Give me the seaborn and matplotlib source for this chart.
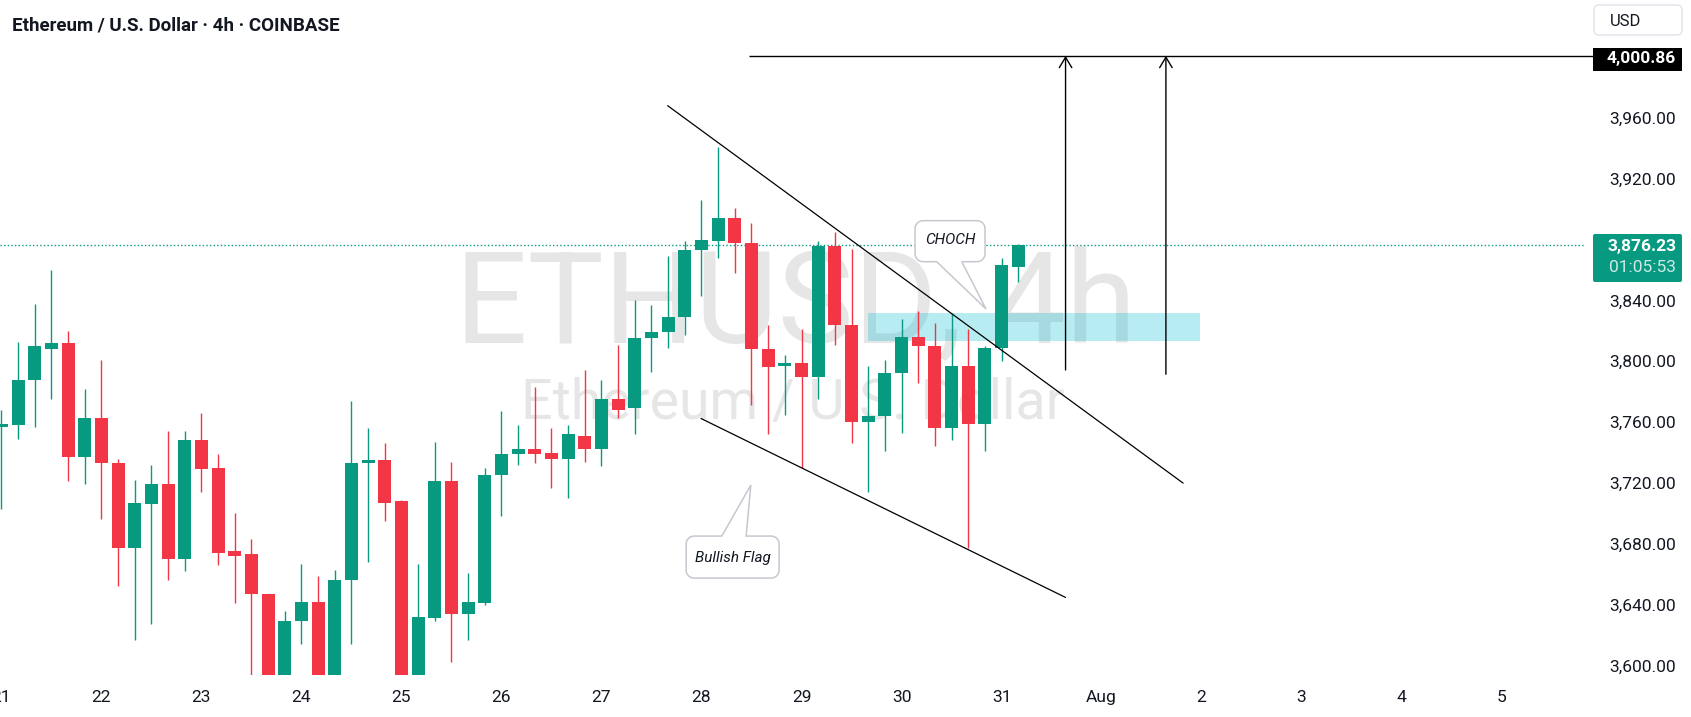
import numpy as np
import seaborn as sns
import matplotlib
matplotlib.use("Agg")
import matplotlib.pyplot as plt
import matplotlib.transforms as mtransforms
from matplotlib.patches import Rectangle, Polygon, FancyBboxPatch
from matplotlib.ticker import FuncFormatter

# 4h candles, index 0 = Jul 22 00:00 (6 candles per day)
candle = np.arange(-6, 56)
open_ = [3757, 3758, 3788, 3808, 3812, 3737, 3763, 3733, 3677, 3706,
         3719, 3670, 3748, 3730, 3675, 3673, 3647, 3588, 3629, 3642,
         3590, 3656, 3733, 3735, 3708, 3592, 3631, 3721, 3634, 3641,
         3725, 3739, 3742, 3740, 3736, 3751, 3742, 3775, 3769, 3815,
         3819, 3829, 3873, 3879, 3894, 3878, 3808, 3797, 3799, 3790,
         3876, 3824, 3760, 3764, 3792, 3816, 3810, 3756, 3797, 3759,
         3809, 3862]
high = [3768, 3813, 3838, 3860, 3820, 3782, 3801, 3736, 3722, 3732,
        3754, 3754, 3766, 3739, 3700, 3683, 3647, 3636, 3667, 3659,
        3663, 3774, 3756, 3746, 3709, 3667, 3747, 3734, 3661, 3730,
        3767, 3758, 3783, 3756, 3758, 3794, 3788, 3811, 3840, 3837,
        3869, 3879, 3906, 3941, 3901, 3891, 3824, 3804, 3821, 3879,
        3885, 3874, 3797, 3801, 3828, 3833, 3825, 3832, 3821, 3810,
        3868, 3877]
low = [3703, 3749, 3757, 3775, 3721, 3719, 3696, 3652, 3617, 3627,
       3656, 3662, 3714, 3666, 3641, 3585, 3572, 3580, 3614, 3582,
       3586, 3614, 3668, 3695, 3578, 3585, 3629, 3602, 3617, 3640,
       3698, 3732, 3733, 3717, 3710, 3734, 3731, 3763, 3752, 3793,
       3809, 3817, 3843, 3868, 3858, 3771, 3752, 3765, 3730, 3775,
       3811, 3746, 3714, 3741, 3753, 3786, 3744, 3748, 3677, 3741,
       3800, 3852]
close = [3759, 3788, 3810, 3812, 3737, 3763, 3733, 3677, 3707, 3719,
         3670, 3748, 3729, 3674, 3672, 3647, 3588, 3629, 3642, 3590,
         3656, 3733, 3735, 3707, 3592, 3632, 3721, 3634, 3642, 3725,
         3739, 3742, 3739, 3736, 3752, 3742, 3775, 3768, 3815, 3819,
         3829, 3873, 3880, 3894, 3878, 3808, 3796, 3799, 3790, 3876,
         3824, 3760, 3764, 3792, 3816, 3810, 3756, 3797, 3759, 3809,
         3863, 3876.23]

day_ticks = np.arange(-6, 85, 6)
day_labels = ["21", "22", "23", "24", "25", "26", "27", "28", "29", "30",
              "31", "Aug", "2", "3", "4", "5"]
price_ticks = np.arange(3600, 4001, 40)

last_price = 3876.23
target_price = 4000.86
target_start = 38.88
arrow_x = [57.84, 63.86]
arrow_base = [3794.3, 3791.5]
upper_line_x, upper_line_y = [33.97, 64.89], [3968.1, 3719.9]
lower_line_x, lower_line_y = [35.97, 57.84], [3762.4, 3644.7]
zone_x, zone_y = [45.97, 65.93], [3813.5, 3831.9]

GREEN = "#089981"
RED = "#f23645"
TXT = "#131722"

sns.set_style("white")
plt.rcParams["font.family"] = ["Roboto", "DejaVu Sans"]

W, H = 1691, 717
fig = plt.figure(figsize=(W / 100, H / 100), dpi=100)
fig.patch.set_facecolor("white")
ax = fig.add_axes([0, 1 - 675 / H, 1585 / W, 675 / H])
ax.set_xlim(-6.08, 89.0)
ax.set_ylim(3593.7, 4037.6)
sns.despine(ax=ax, left=True, bottom=True, right=True, top=True)

# watermark
ax.text(796 / W, 1 - 343 / H, "ETHUSD, 4h", transform=fig.transFigure, fontsize=92,
        color="#e6e6e6", ha="center", va="baseline", zorder=0)
ax.text(793 / W, 1 - 419 / H, "Ethereum / U.S. Dollar", transform=fig.transFigure,
        fontsize=40, color="#e6e6e6", ha="center", va="baseline", zorder=0)

# candles
o, h, l, c = map(np.asarray, (open_, high, low, close))
colors = np.where(c >= o, GREEN, RED)
ax.vlines(candle, l, h, colors=colors, lw=1.0, zorder=3)
ax.bar(candle, np.maximum(np.abs(c - o), 0.8), bottom=np.minimum(o, c), width=0.78,
       color=colors, linewidth=0, zorder=4)

# drawings
ax.add_patch(Rectangle((zone_x[0], zone_y[0]), zone_x[1] - zone_x[0], zone_y[1] - zone_y[0],
                       fc="#00bcd4", alpha=0.28, lw=0, zorder=2))
ax.axhline(last_price, color=GREEN, ls=(0, (1, 1.6)), lw=1.0, zorder=2)
ax.hlines(target_price, target_start, 89.5, color="black", lw=1.0, zorder=5, clip_on=False)
for xa, ya in zip(arrow_x, arrow_base):
    ax.annotate("", xy=(xa, target_price), xytext=(xa, ya),
                arrowprops=dict(arrowstyle="->,head_length=0.5,head_width=0.3", lw=1.0,
                                color="black", shrinkA=0, shrinkB=0, mutation_scale=15),
                zorder=5)
sns.lineplot(x=upper_line_x, y=upper_line_y, color="black", lw=0.9, ax=ax, zorder=5)
sns.lineplot(x=lower_line_x, y=lower_line_y, color="black", lw=0.9, ax=ax, zorder=5)


def balloon(l_, r_, b_, t_, tip, base, side, rad=8):
    def arc(cx, cy, a0, a1):
        a = np.radians(np.linspace(a0, a1, 9))
        return list(zip(cx + rad * np.cos(a), cy + rad * np.sin(a)))
    pts = [(l_ + rad, b_)]
    if side == "bottom":
        pts += [(base[0], b_), tip, (base[1], b_)]
    pts += [(r_ - rad, b_)] + arc(r_ - rad, b_ + rad, -90, 0) + arc(r_ - rad, t_ - rad, 0, 90)
    if side == "top":
        pts += [(base[1], t_), tip, (base[0], t_)]
    pts += arc(l_ + rad, t_ - rad, 90, 180) + arc(l_ + rad, b_ + rad, 180, 270)
    return pts


def callout(xy, box, base, side, text, text_off):
    trans = mtransforms.Affine2D() + mtransforms.ScaledTranslation(xy[0], xy[1], ax.transData)
    poly = Polygon(balloon(*box, (0, 0), base, side), closed=True, transform=trans,
                   fc="white", ec="#c6c8d0", lw=1.1, zorder=6, clip_on=False)
    ax.add_patch(poly)
    ax.annotate(text, xy=xy, xytext=text_off, textcoords="offset pixels", ha="center",
                va="center", fontsize=11, style="italic", color=TXT, zorder=7)


callout((53.07, 3834.4), (-71, -1, 47.3, 88.3), (-49.3, -24.3), "bottom", "CHOCH", (-36, 69))
callout((38.96, 3718.6), (-64.7, 28.3, -93, -51), (-29, -4.7), "top", "Bullish Flag", (-17.7, -73))

# axes ticks
ax.set_xticks(day_ticks)
ax.set_xticklabels(day_labels)
ax.set_yticks(price_ticks)
ax.yaxis.set_major_formatter(FuncFormatter(lambda v, p: f"{v:,.2f}"))
ax.yaxis.tick_right()
ax.tick_params(axis="y", length=0, pad=65.5, labelsize=12.5, labelcolor=TXT)
ax.tick_params(axis="x", length=0, pad=11, labelsize=12.5, labelcolor=TXT)
for lab in ax.get_yticklabels():
    lab.set_ha("right")
ax.grid(False)

# price axis labels and header (pixel positions)
px = mtransforms.IdentityTransform()
fig.add_artist(FancyBboxPatch((1594, H - 35), 88, 30, boxstyle="round,pad=0,rounding_size=5",
                              transform=px, fc="white", ec="#e0e3eb", lw=1, zorder=10))
fig.text(1610, H - 21, "USD", transform=px, fontsize=12, color=TXT, va="center", zorder=11)
fig.add_artist(Rectangle((1593, H - 71), 89, 23, transform=px, fc="black", lw=0, zorder=10))
fig.text(1676, H - 58, f"{target_price:,.2f}", transform=px, fontsize=12.5, color="white",
         ha="right", va="center", fontweight="bold", zorder=11)
fig.add_artist(FancyBboxPatch((1593, H - 282), 89, 48, boxstyle="round,pad=0,rounding_size=2",
                              transform=px, fc=GREEN, lw=0, zorder=10))
fig.text(1676, H - 247, f"{last_price:,.2f}", transform=px, fontsize=12.5, color="white",
         ha="right", va="center", fontweight="bold", zorder=11)
fig.text(1676, H - 268, "01:05:53", transform=px, fontsize=12.5, color="white", alpha=0.8,
         ha="right", va="center", zorder=11)
fig.text(12, H - 25, "Ethereum / U.S. Dollar \u00b7 4h \u00b7 COINBASE", transform=px,
         fontsize=13.5, fontweight="bold", color=TXT, va="center", zorder=11)

fig.savefig("out.png", dpi=100)
